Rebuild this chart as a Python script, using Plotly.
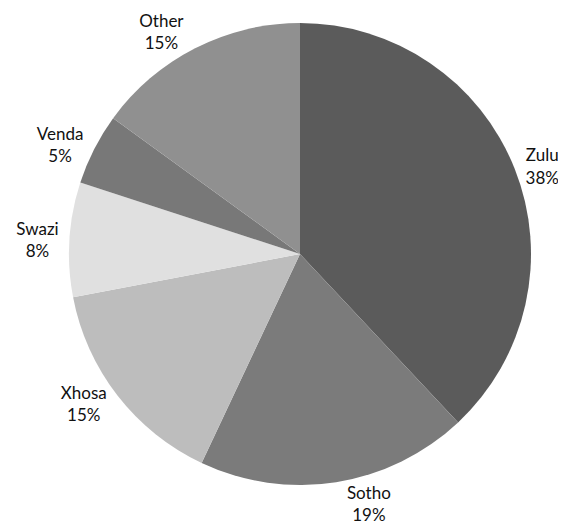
import plotly.graph_objects as go

# Share of home language (clockwise from 12 o'clock)
languages = ["Zulu", "Sotho", "Xhosa", "Swazi", "Venda", "Other"]
shares = [38, 19, 15, 8, 5, 15]
slice_colors = ["#5b5b5b", "#7b7b7b", "#bdbdbd", "#e0e0e0", "#787878", "#909090"]

W, H = 566, 527
# pie centre / radius in figure pixels (page has an 8px body margin)
cx, cy, r = 292, 246, 231

fig = go.Figure(
    go.Pie(
        labels=languages,
        values=shares,
        sort=False,
        direction="clockwise",
        rotation=0,
        marker=dict(colors=slice_colors, line=dict(width=0)),
        textposition="outside",
        texttemplate="%{label}<br>%{percent:.0%}",
        textfont=dict(family="Lato", size=17, color="#111111"),
        automargin=False,
        showlegend=False,
        hoverinfo="label+percent",
        domain=dict(
            x=[(cx - r) / W, (cx + r) / W],
            y=[1 - (cy + r) / H, 1 - (cy - r) / H],
        ),
    )
)

fig.update_layout(
    width=W,
    height=H,
    margin=dict(l=0, r=0, t=0, b=0),
    paper_bgcolor="white",
    plot_bgcolor="white",
)

fig.write_html("out.html")
